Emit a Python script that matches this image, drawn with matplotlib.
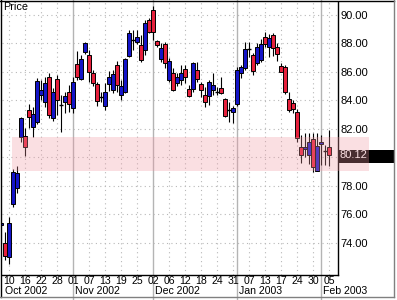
import matplotlib
matplotlib.use("Agg")
import matplotlib.pyplot as plt
from matplotlib.lines import Line2D
from matplotlib.patches import Rectangle
import matplotlib.transforms as mtransforms
import numpy as np

plt.rcParams["font.family"] = ["Liberation Sans", "DejaVu Sans"]

# Торговые дни
dates = (
    ["2002-10-%02d" % d for d in [8, 9, 10, 11, 14, 15, 16, 17, 18, 21, 22, 23, 24, 25, 28, 29, 30, 31]]
    + ["2002-11-%02d" % d for d in [1, 4, 5, 6, 7, 8, 11, 12, 13, 14, 15, 18, 19, 20, 21, 22, 25, 26, 27, 29]]
    + ["2002-12-%02d" % d for d in [2, 3, 4, 5, 6, 9, 10, 11, 12, 13, 16, 17, 18, 19, 20, 23, 24, 26, 27, 30, 31]]
    + ["2003-01-%02d" % d for d in [2, 3, 6, 7, 8, 9, 10, 13, 14, 15, 16, 17, 21, 22, 23, 24, 27, 28, 29, 30, 31]]
    + ["2003-02-%02d" % d for d in [3, 4, 5]]
)

opens = [75.24, 73.97, 72.99, 76.72, 77.84, 81.42, 81.49, 83.31, 82.12, 82.47,
         84.37, 83.87, 85.63, 82.75, 85.49, 83.66, 83.87, 84.58, 83.45, 86.54,
         85.49, 87.38, 87.17, 85.91, 85.14, 84.22, 83.59, 85.14, 84.72, 86.47,
         84.36, 84.58, 87.10, 88.22, 88.08, 87.87, 87.52, 89.63, 90.33, 88.15,
         86.89, 87.94, 85.42, 85.91, 85.21, 85.42, 86.19, 84.79, 84.79, 86.12,
         85.14, 84.36, 84.29, 84.72, 84.58, 84.86, 84.08, 83.31, 83.17, 83.73,
         85.91, 86.26, 87.59, 87.17, 86.61, 86.82, 88.44, 87.73, 88.58, 87.73,
         86.40, 86.33, 84.08, 83.80, 83.17, 80.72, 80.58, 80.16, 81.28, 79.03,
         80.93, 80.44, 80.72]
highs = [75.45, 74.74, 75.80, 79.16, 79.38, 82.82, 82.05, 83.73, 83.52, 85.56,
         85.42, 85.63, 85.91, 84.86, 85.77, 84.36, 84.58, 85.07, 85.63, 87.45,
         87.17, 88.08, 87.52, 86.12, 85.28, 84.58, 85.21, 86.05, 86.12, 86.75,
         85.42, 86.96, 88.93, 88.93, 88.93, 88.58, 89.63, 89.77, 90.61, 88.22,
         88.01, 88.08, 86.96, 86.26, 85.91, 86.47, 86.47, 85.07, 86.68, 86.68,
         85.28, 84.93, 85.42, 85.91, 84.93, 85.63, 84.15, 83.87, 83.59, 86.33,
         86.47, 88.08, 88.08, 87.31, 88.01, 88.29, 88.79, 88.65, 88.72, 88.01,
         86.61, 86.47, 84.58, 84.01, 83.38, 81.56, 81.70, 81.70, 81.70, 81.70,
         81.56, 80.86, 81.91]
lows = [75.15, 72.79, 72.50, 76.51, 77.47, 81.07, 80.09, 82.05, 81.42, 82.33,
        84.01, 83.52, 82.75, 82.54, 82.96, 81.77, 83.10, 83.17, 83.10, 85.42,
        85.42, 87.24, 85.28, 85.00, 83.59, 83.87, 83.31, 84.65, 84.51, 84.58,
        84.01, 84.51, 87.03, 87.52, 87.94, 86.68, 87.17, 88.72, 88.22, 87.73,
        86.68, 86.26, 85.28, 84.65, 85.00, 85.07, 85.21, 84.22, 84.58, 85.28,
        84.22, 83.52, 83.66, 84.36, 84.36, 84.44, 82.82, 82.47, 82.40, 83.59,
        85.56, 86.12, 87.03, 85.77, 86.47, 86.68, 87.73, 87.03, 87.10, 86.75,
        85.98, 84.44, 83.17, 83.10, 81.07, 79.59, 80.01, 79.52, 78.96, 79.03,
        79.45, 79.45, 79.38]
closes = [75.38, 73.06, 75.38, 78.95, 78.88, 82.75, 80.72, 82.82, 83.03, 85.35,
          84.72, 85.21, 82.96, 84.58, 84.01, 83.66, 84.29, 83.73, 85.28, 85.63,
          86.89, 88.01, 85.98, 85.21, 83.94, 84.22, 84.58, 85.63, 85.84, 85.07,
          85.00, 86.89, 88.72, 88.22, 88.44, 86.82, 89.42, 88.79, 88.79, 87.87,
          87.66, 86.61, 86.75, 84.72, 85.63, 85.91, 85.63, 84.29, 86.61, 85.49,
          84.72, 83.87, 85.28, 85.07, 84.58, 84.51, 82.89, 83.31, 83.45, 86.12,
          86.33, 87.59, 87.59, 86.05, 87.73, 87.94, 87.94, 88.36, 87.66, 87.24,
          85.98, 84.58, 83.31, 83.38, 81.35, 80.16, 80.72, 81.07, 79.31, 80.79,
          81.07, 80.44, 80.12]

month_labels = ["Oct 2002", "Nov 2002", "Dec 2002", "Jan 2003", "Feb 2003"]
price_ticks = [74, 76, 78, 80, 82, 84, 86, 88, 90]
band_low, band_high = 79.05, 81.45

W, H = 397, 300
AX_W, AX_H = 336, 273
BLUE = "#1414c8"
RED = "#e6203c"


def main():
    fig = plt.figure(figsize=(W / 100, H / 100), dpi=100)
    ax = fig.add_axes([2 / W, 1 - 275 / H, AX_W / W, AX_H / H])

    o = np.array(opens)
    c = np.array(closes)
    hi = np.array(highs)
    lo = np.array(lows)
    x = np.arange(len(dates))

    # сетка
    tick_pos = list(range(2, len(dates), 4))
    month_pos = [i for i in range(1, len(dates)) if dates[i][5:7] != dates[i - 1][5:7]]
    for p in tick_pos:
        if p not in month_pos:
            ax.axvline(p, color="#b8b8b8", lw=0.8, ls=(0, (1, 3)), zorder=0)
    for p in month_pos:
        ax.axvline(p, ymin=-24 / AX_H, ymax=1 + 3 / AX_H, color="#b4b4b4", lw=1.0,
                   clip_on=False, zorder=0)
    for v in price_ticks:
        ax.axhline(v, color="#b8b8b8", lw=0.8, ls=(0, (1, 3)), zorder=0)

    # свечи
    ax.vlines(x, lo, hi, color="black", lw=0.8, zorder=2)
    up = c > o
    down = c < o
    doji = c == o
    ax.bar(x[up], (c - o)[up], bottom=o[up], width=0.95, color=BLUE,
           edgecolor="black", lw=0.7, zorder=3)
    ax.bar(x[down], (o - c)[down], bottom=c[down], width=0.95, color=RED,
           edgecolor="black", lw=0.7, zorder=3)
    ax.hlines(c[doji], x[doji] - 0.55, x[doji] + 0.55, color="black", lw=1.0, zorder=3)

    ax.set_xlim(0.25, 84.25)
    ax.set_ylim(71.73, 90.89)

    # подпись 80.00 закрыта плашкой текущей цены
    ax.yaxis.tick_right()
    ax.set_yticks(price_ticks)
    ax.set_yticklabels(["" if abs(v - closes[-1]) < 0.5 else "%.2f" % v for v in price_ticks],
                       fontsize=8)
    ax.tick_params(axis="y", length=0, pad=1.5)
    ax.set_xticks(tick_pos)
    ax.set_xticklabels([dates[p][-2:] for p in tick_pos], fontsize=7.6)
    ax.tick_params(axis="x", length=0, pad=0.8)
    for s in ax.spines.values():
        s.set_color("black")
        s.set_linewidth(1.0)
    ax.spines["left"].set_visible(False)
    ax.spines["top"].set_visible(False)

    # подписи месяцев
    trans = mtransforms.blended_transform_factory(ax.transData, ax.transAxes)
    starts = [0.5] + month_pos
    for p, lab in zip(starts, month_labels):
        ax.text(p + 0.45, -16.5 / AX_H, lab, transform=trans, ha="left", va="center",
                fontsize=7.6)

    # текущая цена
    ytr = mtransforms.blended_transform_factory(ax.transAxes, ax.transData)
    ax.add_patch(Rectangle((1.0, (275 - 163) / AX_H), 56 / AX_W, 13 / AX_H,
                           transform=ax.transAxes, color="black", lw=0,
                           clip_on=False, zorder=5))
    ax.text(1 + 2 / AX_W, closes[-1], "%.2f" % closes[-1], transform=ytr,
            color="white", fontsize=8, ha="left", va="center", zorder=6, clip_on=False)

    # полоса
    ax.add_patch(Rectangle((2.75, band_low), 92 - 2.75, band_high - band_low,
                           facecolor=(0.94, 0.59, 0.63), alpha=0.3, lw=0,
                           clip_on=False, zorder=10))

    fig.text(3 / W, 1 - 7.5 / H, "Price", fontsize=7.8, ha="left", va="center")

    # рамка
    fig.add_artist(Line2D([0, 394 / W], [1 - 1 / H, 1 - 1 / H], color="black", lw=1.0))
    fig.add_artist(Line2D([1 / W, 1 / W], [1 - 297 / H, 1], color="black", lw=1.0))
    fig.add_artist(Line2D([393.5 / W, 393.5 / W], [1 - 297 / H, 1], color="#808080", lw=1.0))
    fig.add_artist(Line2D([0, 394 / W], [1 - 297 / H, 1 - 297 / H], color="#808080", lw=1.0))

    fig.savefig("out.png", dpi=100)


if __name__ == "__main__":
    main()
